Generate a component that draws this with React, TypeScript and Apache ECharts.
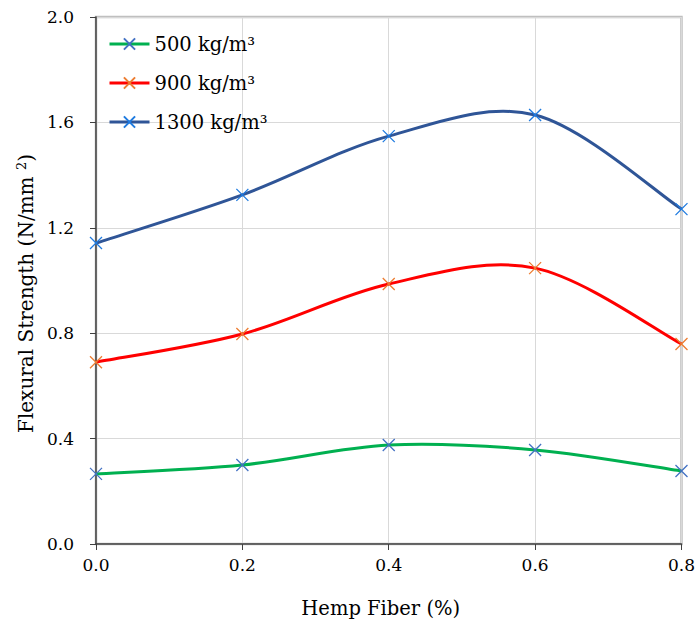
import React, { useEffect, useRef } from "react";
import * as echarts from "echarts";

const fiber = [0.0, 0.2, 0.4, 0.6, 0.8];
const s500 = [0.266, 0.3, 0.376, 0.357, 0.277];
const s900 = [0.69, 0.797, 0.987, 1.047, 0.759];
const s1300 = [1.142, 1.325, 1.548, 1.628, 1.271];
const seriesNames = ["500 kg/m³", "900 kg/m³", "1300 kg/m³"];
const lineColors = ["#00B050", "#FF0000", "#2F5597"];
const markerColors = ["#4472C4", "#ED7D31", "#1F7BE0"];

const FONT = "DejaVu Serif";
const X_SYMBOL = "path://M0,0L10,10M10,0L0,10";

export default function App() {
  const ref = useRef<HTMLDivElement>(null);
  useEffect(() => {
    const chart = echarts.init(ref.current!, null, { renderer: "svg" });
    const all = [s500, s900, s1300];
    const markerSeries = all.map((vals, k) => ({
      name: seriesNames[k],
      type: "line",
      data: fiber.map((x, i) => [x, vals[i]]),
      symbol: X_SYMBOL,
      symbolSize: 12,
      showSymbol: true,
      z: 5,
      lineStyle: { color: lineColors[k], width: 3, opacity: 0 },
      itemStyle: { color: "rgba(0,0,0,0)", borderColor: markerColors[k], borderWidth: 1.3 },
      emphasis: { disabled: true },
    }));
    const curveSeries = all.map((vals, k) => ({
      name: "curve" + k,
      type: "custom",
      z: 3,
      silent: true,
      data: fiber.map((x, i) => [x, vals[i]]),
      renderItem: (params: any, api: any) => {
        if (params.dataIndex !== 0) return null;
        const p = fiber.map((x, i) => api.coord([x, vals[i]]));
        let d = `M${p[0][0]},${p[0][1]}`;
        for (let i = 0; i < p.length - 1; i++) {
          const p0 = p[Math.max(i - 1, 0)];
          const p1 = p[i];
          const p2 = p[i + 1];
          const p3 = p[Math.min(i + 2, p.length - 1)];
          const c1x = p1[0] + (p2[0] - p0[0]) / 6;
          const c1y = p1[1] + (p2[1] - p0[1]) / 6;
          const c2x = p2[0] - (p3[0] - p1[0]) / 6;
          const c2y = p2[1] - (p3[1] - p1[1]) / 6;
          d += ` C${c1x},${c1y} ${c2x},${c2y} ${p2[0]},${p2[1]}`;
        }
        return {
          type: "path",
          shape: { pathData: d },
          style: { fill: "none", stroke: lineColors[k], lineWidth: 3 },
        };
      },
    }));
    chart.setOption({
      animation: false,
      textStyle: { fontFamily: FONT },
      grid: {
        left: 96,
        right: 14,
        top: 17,
        bottom: 82,
        show: true,
        borderColor: "#bfbfbf",
        borderWidth: 2.5,
      },
      legend: {
        orient: "vertical",
        left: 108,
        top: 34,
        padding: 0,
        itemWidth: 40,
        itemHeight: 14,
        itemGap: 19,
        textStyle: { fontFamily: FONT, fontSize: 19.5, color: "#000" },
        data: seriesNames.map((n, k) => ({
          name: n,
          lineStyle: { color: lineColors[k], width: 3, opacity: 1 },
        })),
      },
      xAxis: {
        type: "value",
        min: 0,
        max: 0.8,
        interval: 0.2,
        name: "Hemp Fiber (%)",
        nameLocation: "middle",
        nameGap: 54,
        nameTextStyle: { fontFamily: FONT, fontSize: 19.5, color: "#000", padding: [0, 16, 0, 0] },
        axisLine: { show: true, onZero: false, lineStyle: { color: "#404040", width: 1.5 } },
        axisTick: { show: true, inside: false, length: 6, lineStyle: { color: "#404040" } },
        axisLabel: {
          margin: 12,
          fontFamily: FONT,
          fontSize: 17,
          color: "#000",
          formatter: (v: number) => v.toFixed(1),
        },
        splitLine: { show: true, lineStyle: { color: "#d9d9d9", width: 1 } },
      },
      yAxis: {
        type: "value",
        min: 0,
        max: 2.0,
        interval: 0.4,
        name: "{n|Flexural Strength (N/mm }{s|2}{n|)}",
        nameLocation: "middle",
        nameGap: 60,
        nameTextStyle: {
          fontFamily: FONT,
          fontSize: 20,
          color: "#000",
          padding: [0, 26, 0, 0],
          rich: {
            n: { fontFamily: FONT, fontSize: 20, color: "#000" },
            s: { fontFamily: FONT, fontSize: 13, color: "#000", verticalAlign: "top", padding: [0, 0, 8, 0] },
          },
        },
        axisLine: { show: true, onZero: false, lineStyle: { color: "#404040", width: 1.5 } },
        axisTick: { show: true, inside: false, length: 6, lineStyle: { color: "#404040" } },
        axisLabel: {
          margin: 22,
          fontFamily: FONT,
          fontSize: 17,
          color: "#000",
          formatter: (v: number) => v.toFixed(1),
        },
        splitLine: { show: true, lineStyle: { color: "#d9d9d9", width: 1 } },
      },
      series: [...curveSeries, ...markerSeries],
    });
    return () => chart.dispose();
  }, []);
  return <div ref={ref} style={{ width: 698, height: 626, position: "absolute", left: 0, top: 0 }} />;
}
